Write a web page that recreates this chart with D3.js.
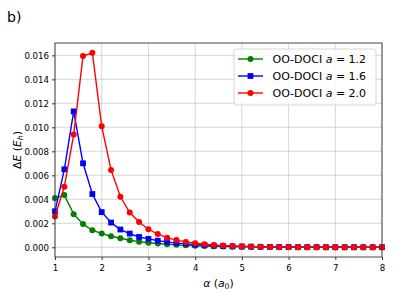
<!DOCTYPE html>
<html>
<head>
<meta charset="utf-8">
<script src="https://cdn.jsdelivr.net/npm/d3@7"></script>
<style>
  body { margin: 0; background: #fff; }
  svg { display: block; font-family: "DejaVu Sans", sans-serif; }
</style>
</head>
<body>
<div id="chart"></div>
<script>
// alpha (a0) grid
var alpha = [1.0, 1.2, 1.4, 1.6, 1.8, 2.0, 2.2, 2.4, 2.6, 2.8,
             3.0, 3.2, 3.4, 3.6, 3.8, 4.0, 4.2, 4.4, 4.6, 4.8,
             5.0, 5.2, 5.4, 5.6, 5.8, 6.0, 6.2, 6.4, 6.6, 6.8,
             7.0, 7.2, 7.4, 7.6, 7.8, 8.0];

var dE_12 = [0.0041, 0.00435, 0.00276, 0.00193, 0.00142, 0.00114, 0.00092, 0.00075, 0.00059, 0.00047,
             0.00038, 0.00031, 0.00025, 0.0002, 0.00016, 0.00013, 0.0001, 0.00008, 0.00006, 0.00005,
             0.00004, 0.00003, 0.00002, 0.00002, 0.00001, 0.00001, 0.00001, 0.00001, 0, 0,
             0, 0, 0, 0, 0, 0];
var dE_16 = [0.0030, 0.0065, 0.01133, 0.0070, 0.00444, 0.00293, 0.00206, 0.00148, 0.00114, 0.00086,
             0.0007, 0.00055, 0.00045, 0.00035, 0.00028, 0.00022, 0.00017, 0.00013, 0.0001, 0.00008,
             0.00006, 0.00005, 0.00004, 0.00003, 0.00002, 0.00002, 0.00001, 0.00001, 0.00001, 0,
             0, 0, 0, 0, 0, 0];
var dE_20 = [0.00256, 0.00505, 0.0094, 0.01594, 0.01622, 0.01008, 0.00645, 0.00421, 0.0029, 0.0021,
             0.0015, 0.0011, 0.0008, 0.0006, 0.00045, 0.00033, 0.00025, 0.00019, 0.00014, 0.0001,
             0.00008, 0.00006, 0.00004, 0.00003, 0.00002, 0.00002, 0.00001, 0.00001, 0.00001, 0,
             0, 0, 0, 0, 0, 0];

var xTicks = [1, 2, 3, 4, 5, 6, 7, 8];
var yTicks = [0, 0.002, 0.004, 0.006, 0.008, 0.010, 0.012, 0.014, 0.016];

var series = [
  { label: "1.2", values: dE_12, color: "#008000", marker: "circle" },
  { label: "1.6", values: dE_16, color: "#0000ff", marker: "square" },
  { label: "2.0", values: dE_20, color: "#ff0000", marker: "circle" }
];

var width = 394, height = 296;
var margin = { top: 43, right: 12, bottom: 39, left: 55 };
var iw = width - margin.left - margin.right;
var ih = height - margin.top - margin.bottom;

var svg = d3.select("#chart").append("svg")
    .attr("width", width)
    .attr("height", height);

var g = svg.append("g")
    .attr("transform", "translate(" + margin.left + "," + margin.top + ")");

var x = d3.scaleLinear().domain([1, 8]).range([0, iw]);
var yMax = d3.max(series, s => d3.max(s.values));
var pad = yMax * 0.05;
var y = d3.scaleLinear().domain([-pad, yMax + pad]).range([ih, 0]);

// grid
g.append("g").selectAll("line.gx")
  .data(xTicks).enter().append("line")
    .attr("x1", d => x(d)).attr("x2", d => x(d))
    .attr("y1", 0).attr("y2", ih)
    .attr("stroke", "#b0b0b0").attr("stroke-width", 0.8).attr("opacity", 0.6);
g.append("g").selectAll("line.gy")
  .data(yTicks).enter().append("line")
    .attr("x1", 0).attr("x2", iw)
    .attr("y1", d => y(d)).attr("y2", d => y(d))
    .attr("stroke", "#b0b0b0").attr("stroke-width", 0.8).attr("opacity", 0.6);

// axes
var xAxis = g.append("g")
    .attr("transform", "translate(0," + ih + ")")
    .call(d3.axisBottom(x).tickValues(xTicks).tickFormat(d3.format("d")).tickSize(3).tickSizeOuter(0));
var yAxis = g.append("g")
    .call(d3.axisLeft(y).tickValues(yTicks).tickFormat(d3.format(".3f")).tickSize(3).tickSizeOuter(0));
[xAxis, yAxis].forEach(function (a) {
  a.select(".domain").remove();
  a.selectAll("text").attr("font-size", 8.6).attr("fill", "#000")
    .attr("font-family", "DejaVu Sans");
  a.selectAll("line").attr("stroke", "#000").attr("stroke-width", 0.8);
});
xAxis.selectAll("text").attr("dy", "0.9em");

// lines + markers
var line = d3.line()
    .x((d, i) => x(alpha[i]))
    .y(d => y(d));

series.forEach(function (s) {
  var sg = g.append("g");
  sg.append("path")
    .datum(s.values)
    .attr("d", line)
    .attr("fill", "none")
    .attr("stroke", s.color)
    .attr("stroke-width", 1.4);
  if (s.marker == "circle") {
    sg.selectAll("circle").data(s.values).enter().append("circle")
      .attr("cx", (d, i) => x(alpha[i]))
      .attr("cy", d => y(d))
      .attr("r", 3)
      .attr("fill", s.color);
  } else {
    sg.selectAll("rect").data(s.values).enter().append("rect")
      .attr("x", (d, i) => x(alpha[i]) - 2.9)
      .attr("y", d => y(d) - 2.9)
      .attr("width", 5.8).attr("height", 5.8)
      .attr("fill", s.color);
  }
});

// frame
g.append("rect")
  .attr("width", iw).attr("height", ih)
  .attr("fill", "none")
  .attr("stroke", "#333").attr("stroke-width", 0.9);

// legend
var lg = svg.append("g").attr("transform", "translate(234,49)");
lg.append("rect")
  .attr("width", 142).attr("height", 56)
  .attr("rx", 2.5).attr("ry", 2.5)
  .attr("fill", "#fff").attr("fill-opacity", 0.8)
  .attr("stroke", "#cccccc").attr("stroke-width", 0.8);
series.forEach(function (s, i) {
  var ly = 10 + i * 17;
  lg.append("line")
    .attr("x1", 4).attr("x2", 29)
    .attr("y1", ly).attr("y2", ly)
    .attr("stroke", s.color).attr("stroke-width", 1.4);
  if (s.marker == "circle") {
    lg.append("circle").attr("cx", 16.5).attr("cy", ly).attr("r", 3).attr("fill", s.color);
  } else {
    lg.append("rect").attr("x", 13.6).attr("y", ly - 2.9).attr("width", 5.8).attr("height", 5.8).attr("fill", s.color);
  }
  var t = lg.append("text")
    .attr("x", 38.5).attr("y", ly + 4)
    .attr("font-size", 11).attr("fill", "#000");
  t.append("tspan").text("OO-DOCI ");
  t.append("tspan").attr("font-style", "italic").text("a");
  t.append("tspan").text(" = " + s.label);
});

// axis labels
var xl = svg.append("text")
  .attr("x", margin.left + iw / 2).attr("y", 287)
  .attr("text-anchor", "middle")
  .attr("font-size", 10.8).attr("fill", "#000");
xl.append("tspan").attr("font-style", "italic").text("α");
xl.append("tspan").text(" (");
xl.append("tspan").attr("font-style", "italic").text("a");
xl.append("tspan").attr("font-size", 7.8).attr("dy", 2).text("0");
xl.append("tspan").attr("dy", -2).text(")");

var yl = svg.append("text")
  .attr("transform", "translate(21," + (margin.top + ih / 2) + ") rotate(-90)")
  .attr("text-anchor", "middle")
  .attr("font-size", 10.8).attr("fill", "#000");
yl.append("tspan").text("Δ");
yl.append("tspan").attr("font-style", "italic").text("E");
yl.append("tspan").text(" (");
yl.append("tspan").attr("font-style", "italic").text("E");
yl.append("tspan").attr("font-style", "italic").attr("font-size", 7.8).attr("dy", 2).text("h");
yl.append("tspan").attr("dy", -2).text(")");

// panel tag
svg.append("text")
  .attr("x", 7).attr("y", 22)
  .attr("font-size", 14).attr("fill", "#000")
  .text("b)");
</script>
</body>
</html>
